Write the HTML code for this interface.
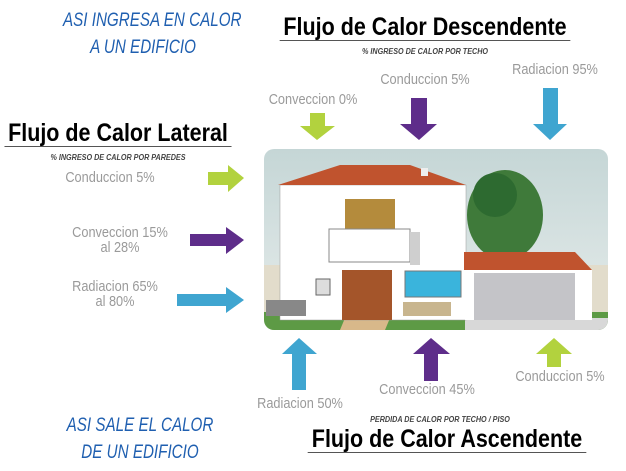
<!DOCTYPE html>
<html><head><meta charset="utf-8"><style>
body{margin:0;width:626px;height:471px;background:#fff;overflow:hidden;position:relative;font-family:"Liberation Sans",sans-serif}
.t{position:absolute;white-space:nowrap;transform-origin:center}
.g{color:#9a9a9a;font-size:15px;text-align:center;transform:scaleX(0.85)}
.blue{color:#1f5fb0;font-style:italic;font-size:19px;text-align:center;transform:scaleX(0.8)}
.h{color:#000;font-weight:bold;font-size:25px;border-bottom:1.5px solid #555;line-height:25px;transform:scaleX(0.86)}
.s{color:#444;font-weight:bold;font-style:italic;font-size:8px;transform:scaleX(0.9)}
</style></head><body>
<div class="t blue" style="left:43px;top:10px;width:200px">ASI INGRESA EN CALOR</div>
<div class="t blue" style="left:43px;top:37px;width:200px">A UN EDIFICIO</div>
<div class="t h" style="left:256px;top:15px;width:338px;text-align:center">Flujo de Calor Descendente</div>
<div class="t s" style="left:280px;top:47px;width:290px;text-align:center">% INGRESO DE CALOR POR TECHO</div>
<div class="t g" style="left:500px;top:61px;width:110px">Radiacion 95%</div>
<div class="t g" style="left:370px;top:71px;width:110px">Conduccion 5%</div>
<div class="t g" style="left:258px;top:91px;width:110px">Conveccion 0%</div>
<div class="t h" style="left:-14px;top:121px;width:264px;text-align:center">Flujo de Calor Lateral</div>
<div class="t s" style="left:4px;top:153px;width:228px;text-align:center">% INGRESO DE CALOR POR PAREDES</div>
<div class="t g" style="left:50px;top:169px;width:120px">Conduccion 5%</div>
<div class="t g" style="left:60px;top:225px;width:120px;line-height:15px">Conveccion 15%<br>al 28%</div>
<div class="t g" style="left:55px;top:279px;width:120px;line-height:15px">Radiacion 65%<br>al 80%</div>
<div class="t g" style="left:240px;top:395px;width:120px">Radiacion 50%</div>
<div class="t g" style="left:367px;top:381px;width:120px">Conveccion 45%</div>
<div class="t g" style="left:500px;top:368px;width:120px">Conduccion 5%</div>
<div class="t blue" style="left:40px;top:415px;width:200px">ASI SALE EL CALOR</div>
<div class="t blue" style="left:40px;top:442px;width:200px">DE UN EDIFICIO</div>
<div class="t s" style="left:340px;top:415px;width:200px;text-align:center">PERDIDA DE CALOR POR TECHO / PISO</div>
<div class="t h" style="left:285px;top:427px;width:324px;text-align:center">Flujo de Calor Ascendente</div>
<svg width="626" height="471" style="position:absolute;left:0;top:0">
<defs><linearGradient id="sky" x1="0" y1="0" x2="0" y2="1"><stop offset="0" stop-color="#c5d6d6"/><stop offset="1" stop-color="#e6eceb"/></linearGradient>
<clipPath id="c"><rect x="264" y="149" width="344" height="181" rx="10"/></clipPath></defs>
<polygon points="310,113 325,113 325,126 335,126 317,140 300,126 310,126" fill="#b2d23e"/>
<polygon points="411,98 427,98 427,124 437,124 419,140 400,124 411,124" fill="#5e2d8a"/>
<polygon points="543,88 558,88 558,124 567,124 550,140 533,124 543,124" fill="#3fa5d0"/>
<polygon points="208,172 228,172 228,165 244,178 228,192 228,185 208,185" fill="#b2d23e"/>
<polygon points="190,234 226,234 226,227 244,240 226,254 226,246 190,246" fill="#5e2d8a"/>
<polygon points="177,294 226,294 226,287 244,300 226,313 226,306 177,306" fill="#3fa5d0"/>
<polygon points="299,338 317,354 306,354 306,390 292,390 292,354 282,354" fill="#3fa5d0"/>
<polygon points="431,338 450,354 438,354 438,381 424,381 424,354 413,354" fill="#5e2d8a"/>
<polygon points="554,338 572,354 561,354 561,367 547,367 547,354 536,354" fill="#b2d23e"/>
<g clip-path="url(#c)">
<rect x="264" y="149" width="344" height="181" fill="url(#sky)"/>
<rect x="264" y="265" width="344" height="50" fill="#e2dccb"/>
<rect x="264" y="312" width="344" height="18" fill="#5d9a45"/>
<rect x="465" y="318" width="143" height="12" fill="#d8d8d8"/>
<polygon points="340,330 385,330 390,318 345,318" fill="#d8b88a"/>
<ellipse cx="505" cy="215" rx="38" ry="45" fill="#3f7a3a"/>
<ellipse cx="495" cy="195" rx="22" ry="22" fill="#2d6a30"/>
<rect x="280" y="185" width="186" height="135" fill="#fff" stroke="#999" stroke-width="0.5"/>
<polygon points="278,185 466,185 410,165 340,165" fill="#c0532e"/>
<rect x="421" y="168" width="7" height="8" fill="#eee"/>
<rect x="345" y="199" width="50" height="30" fill="#b48b3c"/>
<rect x="329" y="229" width="81" height="33" fill="#fff" stroke="#888" stroke-width="1"/>
<rect x="410" y="232" width="10" height="33" fill="#cfcfcf"/>
<rect x="342" y="270" width="50" height="50" fill="#a4552a"/>
<rect x="405" y="271" width="56" height="26" fill="#3ab4dc" stroke="#777"/>
<rect x="316" y="279" width="14" height="16" fill="#ddd" stroke="#666"/>
<rect x="403" y="302" width="48" height="14" fill="#c8b58e"/>
<rect x="266" y="300" width="40" height="16" fill="#888"/>
<polygon points="464,252 575,252 592,270 464,270" fill="#c0532e"/>
<rect x="465" y="270" width="127" height="50" fill="#fff"/>
<rect x="474" y="273" width="101" height="47" fill="#c4c4c8"/>
</g>
</svg>
</body></html>
